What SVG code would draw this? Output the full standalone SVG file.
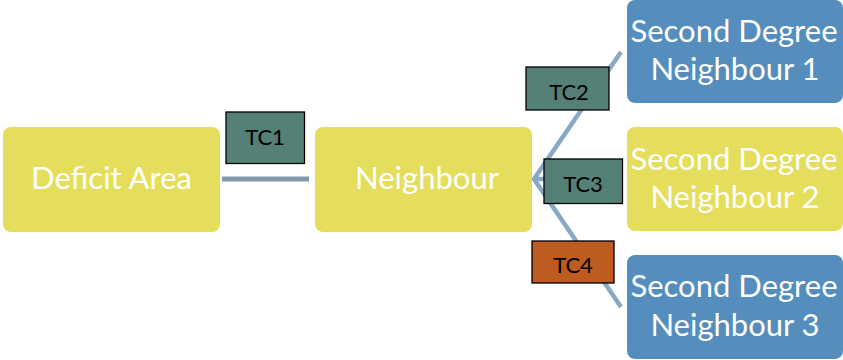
<svg xmlns="http://www.w3.org/2000/svg" width="843" height="360" viewBox="0 0 843 360">
  <style>
    .node-y { fill: #E5DE5C; }
    .node-b { fill: #558DBD; }
    .lbl { font-family: Lato, "Liberation Sans", sans-serif; font-size: 31px; fill: #FFFFFF; text-anchor: middle; }
    .tc { stroke: #000000; stroke-width: 1.3; }
    .tc-g { fill: #558075; }
    .tc-o { fill: #BD5B20; }
    .tct { font-family: Lato, "Liberation Sans", sans-serif; font-size: 22px; fill: #000000; text-anchor: middle; }
    .link { stroke: #89A8C4; stroke-width: 4.5; fill: none; }
    .link-h { stroke: #7F99AE; stroke-width: 5; fill: none; }
  </style>

  <!-- connectors -->
  <g id="connectors">
    <line class="link-h" x1="222" y1="179" x2="309" y2="179"/>
    <polyline class="link" points="621,52 534,179 621,307"/>
    <line class="link" x1="534" y1="179" x2="621" y2="179"/>
  </g>

  <!-- nodes -->
  <g id="deficit-area">
    <rect class="node-y" x="3" y="127" width="217" height="105" rx="8"/>
    <text class="lbl" x="111.5" y="189">Deficit Area</text>
  </g>
  <g id="neighbour">
    <rect class="node-y" x="315" y="127" width="217" height="105" rx="8"/>
    <text class="lbl" x="427" y="189">Neighbour</text>
  </g>
  <g id="second-degree-1">
    <rect class="node-b" x="627" y="0" width="216" height="103" rx="8"/>
    <text class="lbl" x="734" y="42">Second Degree</text>
    <text class="lbl" x="735" y="80">Neighbour 1</text>
  </g>
  <g id="second-degree-2">
    <rect class="node-y" x="627" y="127" width="216" height="104" rx="8"/>
    <text class="lbl" x="734" y="170">Second Degree</text>
    <text class="lbl" x="735" y="208">Neighbour 2</text>
  </g>
  <g id="second-degree-3">
    <rect class="node-b" x="627" y="255" width="216" height="104" rx="8"/>
    <text class="lbl" x="734" y="297">Second Degree</text>
    <text class="lbl" x="735" y="336">Neighbour 3</text>
  </g>

  <!-- transfer capacity labels -->
  <g id="tc1">
    <rect class="tc tc-g" x="226" y="112" width="78.5" height="51.5"/>
    <text class="tct" x="265" y="145">TC1</text>
  </g>
  <g id="tc2">
    <rect class="tc tc-g" x="526" y="67" width="83" height="43"/>
    <text class="tct" x="569" y="100">TC2</text>
  </g>
  <g id="tc3">
    <rect class="tc tc-g" x="544" y="159" width="78.5" height="44.5"/>
    <text class="tct" x="583" y="192">TC3</text>
  </g>
  <g id="tc4">
    <rect class="tc tc-o" x="532" y="241" width="82" height="42"/>
    <text class="tct" x="573" y="273">TC4</text>
  </g>
</svg>
